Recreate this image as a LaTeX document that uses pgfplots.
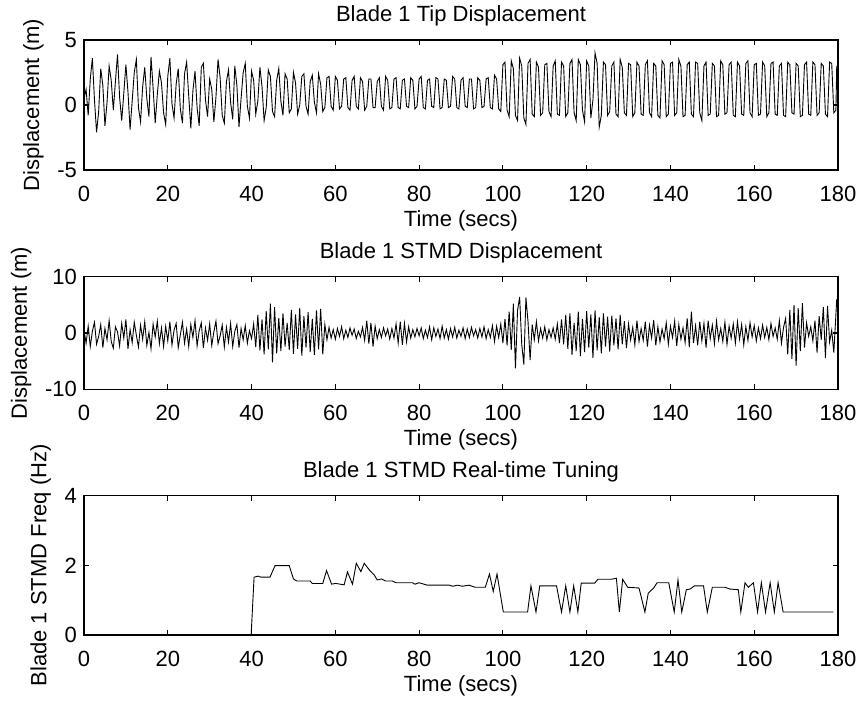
\documentclass[border=0pt]{standalone}
\usepackage{fontspec}
\setmainfont{Liberation Sans}
\usepackage{pgfplots}
\pgfplotsset{compat=1.18}

\pgfplotsset{
  matlab/.style={
    scale only axis,
    width=377pt,
    xmin=0, xmax=180,
    xtick={0,20,...,180},
    tick align=inside,
    tick pos=both,
    major tick length=2.5pt,
    axis line style={line width=0.6pt},
    every tick/.style={black, line width=0.6pt},
    xlabel={Time (secs)},
    xticklabel style={yshift=-4.5pt},
    xlabel style={yshift=2.5pt},
    title style={yshift=-2.5pt},
    /pgf/number format/assume math mode=true,
    font=\fontsize{11}{13}\selectfont,
    anchor=north west,
  },
  sig/.style={black, line width=0.45pt, mark=none},
}

\begin{document}
\begin{tikzpicture}
\useasboundingbox (-42pt,0pt) rectangle (389.5pt,-352.5pt);

% ---------- panel 1 ----------
\begin{axis}[matlab,
  at={(0pt,-20pt)}, height=65pt,
  ymin=-5, ymax=5, ytick={-5,0,5}, yticklabels={-5,0,5},
  ylabel={Displacement (m)},
  title={Blade 1 Tip Displacement},
]
\addplot[sig] coordinates {
(0,0.5)(0.5,1.2)(1,-0.8)(1.5,2.0)(2,3.6)(2.5,0.4)(3,-2.1)(3.5,-0.5)(4,2.8)(4.5,1.5)
(5,-1.6)(5.5,0.2)(6,3.0)(6.5,1.9)(7,-0.4)(7.5,1.8)(8,3.9)(8.5,0.6)(9,-1.2)(9.5,0.9)
(10,3.1)(10.5,1.0)(11,-1.9)(11.5,0.3)(12,2.5)(12.5,3.5)(13,-0.2)(13.5,-1.3)(14,1.4)(14.5,2.9)
(15,0.5)(15.5,-0.9)(16,3.7)(16.5,1.3)(17,-1.4)(17.5,0.8)(18,2.6)(18.5,1.7)(19,-0.6)(19.5,-1.5)
(20,2.2)(20.5,3.6)(21,0.1)(21.5,-1.0)(22,1.6)(22.5,2.8)(23,-0.3)(23.5,-1.4)(24,2.4)(24.5,3.3)
(25,0.7)(25.5,-1.8)(26,1.1)(26.5,2.6)(27,-0.2)(27.5,-1.6)(28,2.9)(28.5,3.2)(29,0.4)(29.5,-0.9)
(30,2.0)(30.5,1.2)(31,-1.3)(31.5,0.6)(32,3.5)(32.5,2.1)(33,-0.8)(33.5,-1.4)(34,1.8)(34.5,2.7)
(35,0.2)(35.5,-1.1)(36,3.0)(36.5,1.5)(37,-1.7)(37.5,0.5)(38,2.5)(38.5,3.2)(39,-0.1)(39.5,-1.0)
(40,2.6)(40.5,1.9)(41,-0.7)(41.5,0.3)(42,2.9)(42.5,1.4)(43,-1.2)(43.5,-0.2)(44,2.7)(44.5,2.2)
(45,-0.5)(45.5,-0.9)(46,1.9)(46.5,2.8)(47,0.3)(47.5,-0.8)(48,2.4)(48.5,2.0)(49,-0.6)(49.5,-0.3)
(50,2.5)(50.5,1.7)(51,-0.7)(51.5,0.0)(52,2.2)(52.5,2.4)(53,-0.1)(53.5,-0.7)(54,1.8)(54.5,2.3)
(55,0.2)(55.5,-0.6)(56,2.4)(56.5,1.6)(57,-0.5)(57.5,-0.2)(58,2.1)(58.5,2.2)(59,-0.1)(59.5,-0.4)
(60,2.2)(60.5,1.9)(61,-0.3)(61.5,-0.1)(62,2.0)(62.5,2.1)(63,-0.2)(63.5,-0.4)(64,1.9)(64.5,2.2)
(65,-0.1)(65.5,-0.3)(66,2.1)(66.5,1.8)(67,-0.4)(67.5,-0.1)(68,2.0)(68.5,2.0)(69,-0.2)(69.5,-0.2)
(70,1.8)(70.5,2.1)(71,-0.1)(71.5,-0.4)(72,2.2)(72.5,1.9)(73,-0.3)(73.5,-0.2)(74,2.0)(74.5,2.1)
(75,-0.2)(75.5,-0.3)(76,1.9)(76.5,2.0)(77,-0.1)(77.5,-0.2)(78,2.1)(78.5,1.9)(79,-0.3)(79.5,-0.1)
(80,2.0)(80.5,2.2)(81,-0.2)(81.5,-0.3)(82,1.9)(82.5,2.0)(83,-0.1)(83.5,-0.2)(84,2.1)(84.5,2.0)
(85,-0.3)(85.5,-0.2)(86,2.0)(86.5,1.9)(87,-0.2)(87.5,-0.1)(88,2.2)(88.5,2.0)(89,-0.2)(89.5,-0.3)
(90,1.9)(90.5,2.1)(91,-0.1)(91.5,-0.2)(92,2.0)(92.5,2.0)(93,-0.3)(93.5,-0.2)(94,2.1)(94.5,1.9)
(95,-0.2)(95.5,-0.1)(96,2.0)(96.5,2.1)(97,-0.2)(97.5,-0.3)(98,2.3)(98.5,2.0)(99,-0.3)(99.5,-0.5)
(100,3.1)(100.5,3.3)(101,-0.4)(101.5,-0.9)(102,3.4)(102.5,2.8)(103,-0.8)(103.5,-1.2)(104,3.6)(104.5,3.0)
(105,-1.0)(105.5,-1.5)(106,3.2)(106.5,3.5)(107,-0.7)(107.5,-0.9)(108,3.3)(108.5,2.9)(109,-0.8)(109.5,-0.6)
(110,3.1)(110.5,3.2)(111,-0.5)(111.5,-0.9)(112,3.0)(112.5,3.4)(113,-0.7)(113.5,-0.8)(114,3.3)(114.5,3.0)
(115,-0.9)(115.5,-0.6)(116,3.2)(116.5,3.5)(117,-0.6)(117.5,-1.2)(118,3.5)(118.5,3.1)(119,-0.4)(119.5,-1.3)
(120,3.4)(120.5,3.0)(121,-1.0)(121.5,0.4)(122,4.0)(122.5,3.2)(123,-1.7)(123.5,-0.8)(124,3.3)(124.5,3.1)
(125,-0.8)(125.5,-0.5)(126,3.0)(126.5,3.3)(127,-0.7)(127.5,-0.9)(128,3.5)(128.5,2.9)(129,-0.6)(129.5,-0.8)
(130,3.2)(130.5,3.1)(131,-0.9)(131.5,-0.6)(132,3.3)(132.5,3.0)(133,-0.7)(133.5,-0.8)(134,3.1)(134.5,3.4)
(135,-0.6)(135.5,-0.9)(136,3.2)(136.5,3.0)(137,-0.8)(137.5,-1.0)(138,3.4)(138.5,3.1)(139,-0.9)(139.5,-0.7)
(140,3.2)(140.5,3.3)(141,-0.8)(141.5,-0.6)(142,3.5)(142.5,3.0)(143,-0.9)(143.5,-0.8)(144,3.1)(144.5,3.3)
(145,-0.7)(145.5,-0.9)(146,3.3)(146.5,3.2)(147,-0.6)(147.5,-1.2)(148,3.0)(148.5,3.3)(149,-0.8)(149.5,-0.7)
(150,3.2)(150.5,3.0)(151,-0.9)(151.5,-0.8)(152,3.4)(152.5,3.1)(153,-0.7)(153.5,-0.6)(154,3.1)(154.5,3.3)
(155,-0.8)(155.5,-0.9)(156,3.3)(156.5,3.0)(157,-0.7)(157.5,-0.8)(158,3.2)(158.5,3.4)(159,-0.6)(159.5,-0.9)
(160,3.1)(160.5,3.2)(161,-0.8)(161.5,-0.7)(162,3.3)(162.5,3.0)(163,-0.9)(163.5,-0.6)(164,3.2)(164.5,3.3)
(165,-0.7)(165.5,-0.8)(166,3.0)(166.5,3.2)(167,-0.8)(167.5,-0.9)(168,3.3)(168.5,3.1)(169,-0.6)(169.5,-0.7)
(170,3.2)(170.5,3.0)(171,-0.9)(171.5,-0.8)(172,3.1)(172.5,3.3)(173,-0.7)(173.5,-0.8)(174,3.3)(174.5,3.1)
(175,-0.8)(175.5,-0.6)(176,3.2)(176.5,3.0)(177,-0.7)(177.5,-0.9)(178,3.3)(178.5,3.2)(179,-0.6)(179.5,-0.4)
(179.7,3.0)
};
\end{axis}

% ---------- panel 2 ----------
\begin{axis}[matlab,
  at={(0pt,-138.35pt)}, height=56.3pt,
  ymin=-10, ymax=10, ytick={-10,0,10}, yticklabels={-10,0,10},
  ylabel={Displacement (m)},
  title={Blade 1 STMD Displacement},
]
\addplot[sig] coordinates {
(0,0.5)(0.5,-1.8)(1,1.2)(1.5,-2.4)(2,0.3)(2.5,1.9)(3,-2.0)(3.5,-0.6)(4,1.5)(4.5,-2.6)
(5,0.8)(5.5,-1.2)(6,2.2)(6.5,-1.5)(7,-2.7)(7.5,1.1)(8,0.2)(8.5,-2.3)(9,1.7)(9.5,-0.9)
(10,2.4)(10.5,-2.8)(11,0.6)(11.5,-1.7)(12,1.9)(12.5,-0.4)(13,-2.5)(13.5,1.4)(14,-1.1)(14.5,2.0)
(15,-2.2)(15.5,0.1)(16,-2.8)(16.5,1.6)(17,-0.7)(17.5,2.1)(18,-1.9)(18.5,0.9)(19,-2.4)(19.5,1.2)
(20,-1.4)(20.5,2.0)(21,-2.1)(21.5,0.5)(22,1.7)(22.5,-2.6)(23,-0.3)(23.5,1.9)(24,-1.8)(24.5,0.7)
(25,-2.4)(25.5,1.5)(26,-0.8)(26.5,2.2)(27,-2.3)(27.5,0.4)(28,1.8)(28.5,-2.7)(29,0.9)(29.5,-1.3)
(30,1.6)(30.5,-2.2)(31,0.2)(31.5,2.1)(32,-1.9)(32.5,-0.5)(33,1.4)(33.5,-2.5)(34,1.0)(34.5,-1.6)
(35,1.7)(35.5,-2.4)(36,0.3)(36.5,1.5)(37,-2.6)(37.5,0.8)(38,-1.2)(38.5,1.3)(39,-1.8)(39.5,0.4)
(40,-1.0)(40.5,1.6)(41,-2.5)(41.5,3.2)(42,-3.1)(42.5,2.4)(43,-3.8)(43.5,3.9)(44,-2.9)(44.5,5.2)
(45,-5.2)(45.5,4.6)(46,-3.6)(46.5,2.7)(47,-3.2)(47.5,3.5)(48,-2.4)(48.5,1.8)(49,-3.0)(49.5,4.1)
(50,-3.7)(50.5,3.3)(51,-2.8)(51.5,4.4)(52,-4.0)(52.5,3.0)(53,-2.6)(53.5,3.7)(54,-3.4)(54.5,2.5)
(55,-3.9)(55.5,4.0)(56,-2.9)(56.5,4.3)(57,-3.8)(57.5,1.5)(58,-1.2)(58.5,1.0)(59,-0.9)(59.5,0.6)
(60,-1.1)(60.5,0.8)(61,-0.6)(61.5,1.1)(62,-1.0)(62.5,0.5)(63,-0.8)(63.5,0.9)(64,-0.4)(64.5,0.7)
(65,-1.0)(65.5,0.3)(66,-0.7)(66.5,1.0)(67,-1.3)(67.5,2.2)(68,-1.9)(68.5,1.8)(69,-2.4)(69.5,1.2)
(70,-1.0)(70.5,0.6)(71,-0.8)(71.5,0.9)(72,-0.5)(72.5,0.7)(73,-1.1)(73.5,0.8)(74,-0.9)(74.5,1.6)
(75,-1.8)(75.5,2.0)(76,-2.1)(76.5,1.7)(77,-1.6)(77.5,1.1)(78,-0.9)(78.5,0.6)(79,-0.7)(79.5,0.8)
(80,-0.5)(80.5,0.9)(81,-1.0)(81.5,0.5)(82,-0.8)(82.5,1.1)(83,-1.2)(83.5,0.9)(84,-0.6)(84.5,0.7)
(85,-1.0)(85.5,1.2)(86,-0.9)(86.5,0.6)(87,-1.1)(87.5,0.8)(88,-0.7)(88.5,1.0)(89,-0.9)(89.5,0.5)
(90,-0.6)(90.5,0.9)(91,-1.0)(91.5,0.7)(92,-0.8)(92.5,1.0)(93,-0.5)(93.5,0.6)(94,-0.9)(94.5,0.8)
(95,-0.7)(95.5,1.1)(96,-1.0)(96.5,0.6)(97,-0.8)(97.5,1.3)(98,-1.5)(98.5,1.2)(99,-0.8)(99.5,1.6)
(100,-1.8)(100.5,2.5)(101,-2.2)(101.5,3.8)(102,-3.0)(102.5,5.2)(103,-6.3)(103.5,4.0)(104,6.4)(104.5,-2.0)
(105,-5.6)(105.5,6.3)(106,2.0)(106.5,-4.8)(107,1.5)(107.5,-1.2)(108,2.0)(108.5,-1.4)(109,0.8)(109.5,-0.9)
(110,1.1)(110.5,-1.2)(111,0.6)(111.5,-0.8)(112,0.9)(112.5,-1.1)(113,1.6)(113.5,-1.8)(114,2.4)(114.5,-2.0)
(115,3.2)(115.5,-2.8)(116,3.5)(116.5,-3.9)(117,1.8)(117.5,-3.2)(118,3.8)(118.5,-4.1)(119,2.5)(119.5,-3.4)
(120,3.9)(120.5,-2.6)(121,3.3)(121.5,-4.4)(122,4.0)(122.5,-3.1)(123,2.8)(123.5,-3.6)(124,3.5)(124.5,-2.4)
(125,2.9)(125.5,-3.3)(126,3.1)(126.5,-2.2)(127,2.6)(127.5,-2.9)(128,3.2)(128.5,-2.0)(129,2.1)(129.5,-2.7)
(130,1.6)(130.5,-1.2)(131,1.0)(131.5,-2.1)(132,2.2)(132.5,-1.5)(133,0.8)(133.5,-1.3)(134,2.0)(134.5,-2.4)
(135,1.4)(135.5,-0.9)(136,2.3)(136.5,-2.2)(137,1.1)(137.5,-1.6)(138,0.7)(138.5,-1.0)(139,1.8)(139.5,-2.0)
(140,1.2)(140.5,-0.8)(141,2.1)(141.5,-2.3)(142,1.5)(142.5,-1.1)(143,0.9)(143.5,-1.7)(144,2.6)(144.5,-2.5)
(145,3.8)(145.5,-1.8)(146,1.3)(146.5,-2.2)(147,2.0)(147.5,-1.4)(148,1.7)(148.5,-2.6)(149,2.2)(149.5,-1.0)
(150,1.4)(150.5,-1.9)(151,2.1)(151.5,-1.2)(152,0.8)(152.5,-1.5)(153,1.9)(153.5,-2.0)(154,1.2)(154.5,-0.9)
(155,1.6)(155.5,-1.8)(156,2.0)(156.5,-1.1)(157,1.5)(157.5,-2.1)(158,1.1)(158.5,-1.3)(159,1.8)(159.5,-0.7)
(160,1.3)(160.5,-1.4)(161,0.9)(161.5,-1.0)(162,1.4)(162.5,-0.8)(163,1.0)(163.5,-1.2)(164,1.7)(164.5,-0.6)
(165,0.9)(165.5,-1.1)(166,2.2)(166.5,-1.8)(167,1.0)(167.5,2.6)(168,-3.8)(168.5,4.1)(169,-4.6)(169.5,5.0)
(170,-5.8)(170.5,4.4)(171,-3.2)(171.5,5.3)(172,-2.6)(172.5,1.8)(173,-0.6)(173.5,1.1)(174,-1.4)(174.5,2.2)
(175,-3.5)(175.5,3.0)(176,-1.2)(176.5,4.6)(177,-4.4)(177.5,4.8)(178,-1.6)(178.5,0.5)(179,-3.5)(179.7,6.0)
};
\end{axis}

% ---------- panel 3 ----------
\begin{axis}[matlab,
  at={(0pt,-247.85pt)}, height=69.65pt,
  ymin=0, ymax=4, ytick={0,2,4}, yticklabels={0,2,4},
  ylabel={Blade 1 STMD Freq (Hz)},
  title={Blade 1 STMD Real-time Tuning},
]
\addplot[sig] coordinates {
(0,0)(39.9,0)(40.6,1.66)(41.6,1.69)(42.2,1.66)(44.4,1.66)(45.6,1.99)(49,1.99)(50,1.61)
(50.8,1.55)(54,1.55)(54.5,1.48)(57,1.48)(57.9,1.85)(59.1,1.46)(60.1,1.48)(62.1,1.44)
(62.9,1.81)(64.1,1.46)(65,2.06)(66.1,1.82)(66.9,2.06)(68.1,1.87)(69.3,1.72)(70,1.58)
(71,1.61)(72,1.55)(73.6,1.55)(74.5,1.50)(78.4,1.50)(79,1.46)(80,1.50)(82,1.43)(87.2,1.43)
(88,1.40)(89.2,1.43)(90.3,1.40)(91.9,1.43)(93.4,1.37)(95.8,1.37)(96.8,1.75)(97.7,1.25)
(98.6,1.75)(100.1,0.66)(105.9,0.66)(106.7,1.41)(107.9,0.66)(108.8,1.41)(112.8,1.41)
(114,0.66)(115,1.41)(116,0.66)(116.9,1.41)(117.9,0.66)(118.7,1.49)(121.9,1.49)(122.7,1.60)
(125.9,1.60)(127.1,1.63)(127.8,0.66)(128.6,1.60)(129.8,1.37)(132.5,1.35)(133.9,0.66)
(134.7,1.20)(136,1.35)(136.8,1.50)(139.6,1.50)(140.9,0.66)(141.8,1.58)(142.7,0.66)(143.8,1.30)
(144.7,1.32)(145.7,1.41)(147.9,1.41)(148.8,0.66)(150,1.37)(153,1.37)(154.2,1.32)(156.2,1.30)
(156.8,0.66)(157.8,1.50)(158.6,1.37)(159.8,1.50)(160.8,0.66)(161.7,1.50)(162.7,0.66)
(163.8,1.50)(164.8,0.66)(165.7,1.50)(166.9,0.66)(178.9,0.66)
};
\end{axis}
\end{tikzpicture}
\end{document}
